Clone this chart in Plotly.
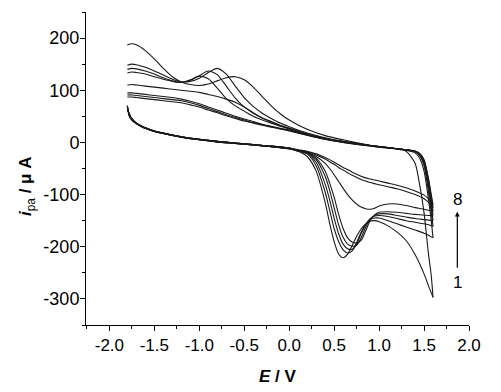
import plotly.graph_objects as go

# ---------------- data ----------------
CYCLES = ["1", "2", "3", "4", "5", "6", "7", "8"]

# cathodic-going (upper) branch, common potential grid
E_UP = [-1.8, -1.75, -1.7, -1.6, -1.5, -1.4, -1.3, -1.2, -1.1, -1.0, -0.9, -0.8, -0.7, -0.6,
        -0.5, -0.4, -0.3, -0.2, -0.1, 0.0, 0.2, 0.4, 0.6, 0.8, 1.0, 1.2, 1.3, 1.4, 1.45,
        1.5, 1.55, 1.58, 1.6]
UP_1 = [187, 189, 187, 176, 160, 142, 126, 116, 111, 109, 112, 118, 124, 126, 120, 106, 88,
        70, 55, 43, 25, 13, 5, -2, -8, -13, -17, -40, -80, -135, -215, -255, -297]
UP_2 = [148, 150, 149, 144, 137, 129, 121, 116, 117, 123, 134, 142, 131, 108, 86, 69, 56,
        46, 37, 30, 18, 9, 2, -3, -8, -12, -15, -20, -30, -55, -110, -150, -183]
UP_3 = [140, 142, 141, 137, 131, 124, 118, 115, 119, 128, 137, 130, 108, 85, 68, 56, 47,
        40, 33, 27, 16, 8, 2, -3, -8, -12, -14, -18, -25, -45, -95, -135, -161]
UP_4 = [133, 135, 134, 131, 126, 121, 117, 115, 120, 127, 122, 104, 84, 70, 60, 50, 43,
        37, 31, 26, 15, 7, 1, -4, -8, -12, -14, -17, -23, -40, -85, -125, -150]
UP_5 = [110, 111, 110, 108, 106, 104, 102, 100, 98, 96, 92, 88, 83, 77, 68, 57, 47,
        39, 32, 27, 16, 7, 1, -4, -8, -12, -14, -17, -22, -38, -80, -115, -140]
UP_6 = [95, 95, 94, 92, 90, 88, 86, 83, 79, 74, 68, 62, 56, 50, 45, 40, 35,
        31, 27, 24, 15, 7, 1, -4, -8, -12, -14, -17, -22, -36, -75, -108, -132]
UP_7 = [91, 91, 90, 88, 86, 84, 82, 80, 76, 71, 65, 59, 53, 48, 43, 38, 34,
        30, 26, 23, 14, 6, 0, -5, -9, -12, -14, -17, -21, -34, -72, -104, -125]
UP_8 = [87, 87, 86, 84, 82, 80, 78, 76, 72, 68, 62, 57, 51, 46, 41, 37, 33,
        29, 26, 22, 14, 6, 0, -5, -9, -12, -14, -17, -21, -33, -70, -100, -119]

# anodic-going (lower) branch, distinct part (from 1.6 V back to 0.1 V)
E_DN = [1.6, 1.55, 1.5, 1.4, 1.3, 1.2, 1.1, 1.0, 0.95, 0.9, 0.85, 0.8, 0.75, 0.7, 0.65,
        0.6, 0.55, 0.5, 0.45, 0.4, 0.3, 0.2, 0.1]
DN_1 = [-297, -275, -252, -215, -188, -172, -160, -152, -150, -151, -156, -166, -180, -198,
        -214, -221, -214, -190, -155, -115, -55, -27, -17]
DN_2 = [-183, -178, -174, -168, -162, -156, -150, -145, -145, -148, -157, -172, -192, -208,
        -212, -206, -190, -165, -130, -95, -45, -22, -17]
DN_3 = [-161, -158, -156, -153, -150, -146, -142, -140, -141, -146, -158, -175, -195, -205,
        -204, -195, -175, -145, -110, -80, -38, -21, -16]
DN_4 = [-150, -149, -148, -146, -143, -140, -137, -137, -140, -148, -163, -183, -197, -199,
        -195, -182, -158, -125, -92, -65, -33, -20, -16]
DN_5 = [-140, -140, -139, -138, -136, -134, -133, -134, -139, -150, -170, -188, -193, -191,
        -183, -165, -138, -105, -78, -55, -30, -19, -15]
DN_6 = [-132, -130, -128, -125, -121, -118, -118, -122, -126, -128, -127, -124, -118, -110,
        -100, -88, -75, -62, -50, -40, -27, -19, -15]
DN_7 = [-125, -115, -108, -100, -94, -89, -85, -81, -79, -77, -74, -71, -67, -63,
        -58, -53, -48, -42, -37, -32, -24, -18, -15]
DN_8 = [-119, -108, -101, -93, -87, -82, -78, -74, -72, -70, -68, -65, -61, -57,
        -52, -48, -43, -38, -33, -29, -22, -17, -14]

# common tail of the lower branch (0 V back to -1.8 V)
E_TAIL = [0.0, -0.2, -0.4, -0.6, -0.8, -1.0, -1.2, -1.4, -1.5, -1.6, -1.65, -1.7, -1.75, -1.78, -1.8]
TAIL_A = [-12, -8, -5, -2, 1, 5, 10, 17, 21, 27, 31, 36, 43, 52, 70]
TAIL_B = [-11, -7, -4, -1, 2, 6, 11, 18, 22, 28, 32, 37, 45, 55, 65]

X_TICKS = [-2.0, -1.5, -1.0, -0.5, 0.0, 0.5, 1.0, 1.5, 2.0]
X_TICK_LABELS = ["-2.0", "-1.5", "-1.0", "-0.5", "0.0", "0.5", "1.0", "1.5", "2.0"]
X_MINOR = [-2.25, -1.75, -1.25, -0.75, -0.25, 0.25, 0.75, 1.25, 1.75]
Y_TICKS = [-300, -200, -100, 0, 100, 200]
Y_TICK_LABELS = ["-300", "-200", "-100", "0", "100", "200"]
Y_MINOR = [-350, -250, -150, -50, 50, 150, 250]

UPPER = [UP_1, UP_2, UP_3, UP_4, UP_5, UP_6, UP_7, UP_8]
LOWER = [DN_1, DN_2, DN_3, DN_4, DN_5, DN_6, DN_7, DN_8]
TAILS = [TAIL_A, TAIL_B, TAIL_A, TAIL_B, TAIL_A, TAIL_B, TAIL_A, TAIL_B]

# ---------------- figure ----------------
FONT = "Arial, Liberation Sans, sans-serif"
LINE = dict(color="#1a1a1a", width=1.1, shape="spline", smoothing=0.7)

fig = go.Figure()
for name, up, dn, tail in zip(CYCLES, UPPER, LOWER, TAILS):
    fig.add_trace(go.Scatter(x=E_UP, y=up, mode="lines", line=LINE,
                             showlegend=False, name=name))
    fig.add_trace(go.Scatter(x=E_DN + E_TAIL, y=dn + tail, mode="lines", line=LINE,
                             showlegend=False, name=name))

axis_common = dict(showline=True, linecolor="black", linewidth=1, mirror=False,
                   ticks="outside", ticklen=5, tickwidth=1, tickcolor="black",
                   showgrid=False, zeroline=False, automargin=False)

fig.update_xaxes(range=[-2.26, 2.0], tickmode="array", tickvals=X_TICKS,
                 ticktext=X_TICK_LABELS,
                 tickfont=dict(family=FONT, size=17, color="black"),
                 minor=dict(tickmode="array", tickvals=X_MINOR, ticks="outside",
                            ticklen=3, tickcolor="black", showgrid=False),
                 **axis_common)
fig.update_yaxes(range=[-350, 250], tickmode="array", tickvals=Y_TICKS,
                 ticktext=Y_TICK_LABELS, ticklabelstandoff=-3,
                 tickfont=dict(family=FONT, size=18, color="black"),
                 minor=dict(tickmode="array", tickvals=Y_MINOR, ticks="outside",
                            ticklen=3, tickcolor="black", showgrid=False),
                 **axis_common)

fig.add_annotation(text="<b><i>E</i> / V</b>", xref="paper", yref="paper",
                   x=0.50, y=-0.163, xanchor="center", yanchor="middle", showarrow=False,
                   font=dict(family=FONT, size=17, color="black"))
fig.add_annotation(text="<b><i>i</i></b><sub>pa</sub><b> / μ A</b>", xref="paper", yref="paper",
                   x=-0.154, y=0.444, xanchor="center", yanchor="middle", showarrow=False,
                   textangle=-90, font=dict(family=FONT, size=17, color="black"))

# cycle-number arrow 1 -> 8
fig.add_annotation(x=1.87, y=-133, ax=1.87, ay=-243, xref="x", yref="y", axref="x", ayref="y",
                   text="", showarrow=True, arrowhead=2, arrowsize=0.8, arrowwidth=1.2,
                   arrowcolor="black")
fig.add_annotation(x=1.87, y=-110, xref="x", yref="y", text=CYCLES[-1], showarrow=False,
                   font=dict(family=FONT, size=17, color="black"))
fig.add_annotation(x=1.87, y=-268, xref="x", yref="y", text=CYCLES[0], showarrow=False,
                   font=dict(family=FONT, size=17, color="black"))

# the page body keeps an 8 px default margin, so the figure is 8 px smaller
fig.update_layout(width=493, height=384, margin=dict(l=78, r=32, t=4, b=67),
                  paper_bgcolor="white", plot_bgcolor="white",
                  font=dict(family=FONT, color="black"))

fig.write_html("out.html")
